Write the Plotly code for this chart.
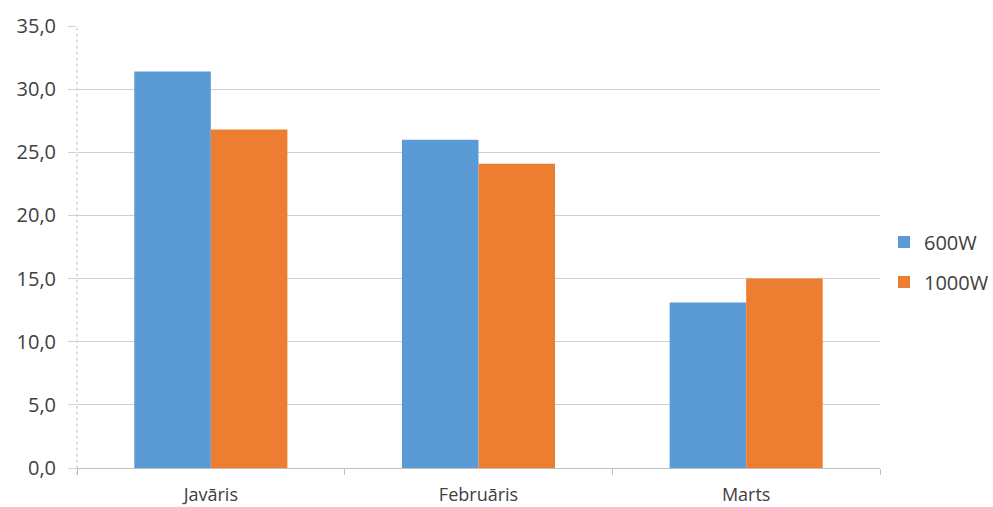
import plotly.graph_objects as go

categories = ["Javāris", "Februāris", "Marts"]
series_600 = [31.4, 26.0, 13.1]
series_1000 = [26.8, 24.1, 15.0]
y_ticks = [0, 5, 10, 15, 20, 25, 30, 35]

fig = go.Figure()
fig.add_trace(go.Bar(x=categories, y=series_600, name="600W", legendgroup="a",
                     marker=dict(color="#5B9BD5", line=dict(width=0))))
fig.add_trace(go.Bar(x=categories, y=series_1000, name="1000W", legendgroup="b",
                     marker=dict(color="#ED7D31", line=dict(width=0))))

fig.update_layout(
    width=993, height=507,
    margin=dict(l=77, r=113, t=26, b=39),
    paper_bgcolor="white", plot_bgcolor="white",
    barmode="group", bargap=0.428, bargroupgap=0,
    separators=", ",
    font=dict(family="Open Sans, Liberation Sans, sans-serif", color="#404040", size=14),
    legend=dict(xref="container", yref="container", x=884/993, y=1 - 262/507,
                xanchor="left", yanchor="middle",
                font=dict(size=20, color="#404040"), tracegroupgap=11, itemwidth=30),
    xaxis=dict(showgrid=False, showline=True, linecolor="#bfbfbf", linewidth=1,
               ticks="outside", tickson="boundaries", ticklen=6, tickcolor="#bfbfbf",
               ticklabelstandoff=10,
               tickfont=dict(size=18, color="#404040"), automargin=False),
    yaxis=dict(range=[0, 35], tickvals=y_ticks, tickformat=".1f",
               showgrid=True, gridcolor="#d0d0d0", gridwidth=1, zeroline=False,
               ticks="outside", ticklen=8, tickcolor="#d0d0d0", ticklabelstandoff=8,
               tickfont=dict(size=20, color="#404040"), automargin=False),
)
fig.add_shape(type="line", xref="paper", yref="paper", x0=0, x1=0, y0=-0.015, y1=1,
              line=dict(color="#bfbfbf", width=1, dash="dot"))
fig.write_html("out.html")
